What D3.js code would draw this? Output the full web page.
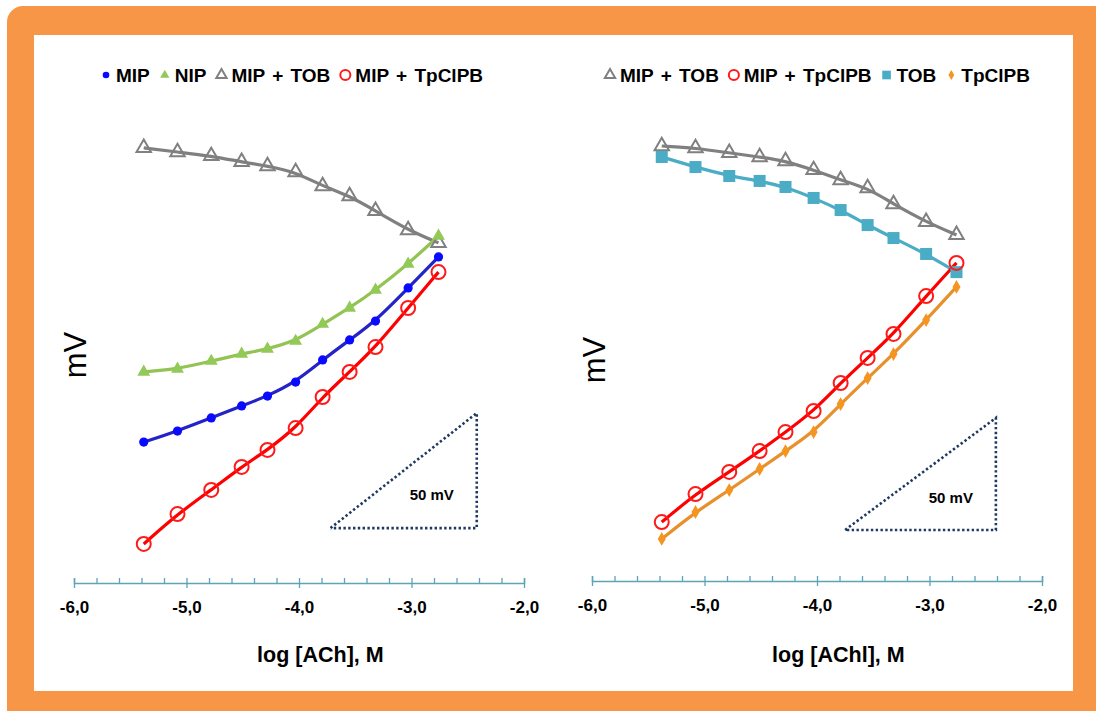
<!DOCTYPE html>
<html>
<head>
<meta charset="utf-8">
<script src="https://cdn.jsdelivr.net/npm/d3@7"></script>
<style>
  body { margin: 0; background: #fff; }
  text { font-family: "Liberation Sans", Arial, sans-serif; }
</style>
</head>
<body>
<svg width="1096" height="711"></svg>
<script>
var svg = d3.select("svg"),
    width = +svg.attr("width"),
    height = +svg.attr("height");

// log concentration of each addition (same for both panels)
var logConc = [-5.38, -5.08, -4.78, -4.51, -4.28, -4.03, -3.79, -3.55, -3.32, -3.03, -2.76];
var xTicksMajor = [-6, -5, -4, -3, -2];

// left panel, mV (relative)
var mipTobA    = [187.0, 185.2, 183.5, 180.9, 179.1, 176.5, 170.4, 166.1, 159.6, 151.3, 145.7];
var nip        = [89.6, 90.9, 94.3, 97.4, 99.6, 103.0, 110.4, 117.4, 125.2, 136.5, 148.7];
var mip        = [59.1, 63.9, 69.6, 74.8, 79.1, 85.2, 94.8, 103.5, 111.7, 126.1, 139.6];
var mipTpcA    = [14.8, 27.8, 38.3, 48.3, 55.7, 65.2, 78.7, 89.6, 100.4, 117.4, 133.0];

// right panel, mV (relative)
var mipTobB    = [194.2, 193.3, 191.1, 189.3, 187.5, 183.5, 179.0, 175.4, 168.3, 160.3, 154.5];
var tob        = [189.3, 184.8, 180.8, 178.6, 175.9, 171.0, 165.6, 158.9, 153.1, 146.0, 137.9];
var mipTpcB    = [26.3, 38.8, 48.7, 58.0, 66.5, 75.9, 88.4, 99.6, 110.3, 127.2, 142.0];
var tpclpb     = [18.8, 30.8, 40.6, 50.0, 58.0, 66.5, 79.0, 90.6, 101.3, 116.5, 131.3];

// 50 mV scale triangle (log x from, log x to, base mV)
var scaleBarA = [-3.72, -2.42, 21.7];
var scaleBarB = [-3.75, -2.41, 22.8];

var styles = {
  mip:    {name: "MIP",           color: "#0a0aff", line: "#2323c8", shape: "dot"},
  nip:    {name: "NIP",           color: "#92c957", line: "#92c353", shape: "tri"},
  mipTob: {name: "MIP + TOB",     color: "#808080", line: "#808080", shape: "otri"},
  mipTpc: {name: "MIP + TpClPB",  color: "#ff1a1a", line: "#ff0000", shape: "ocirc"},
  tob:    {name: "TOB",           color: "#4bacc6", line: "#4bacc6", shape: "square"},
  tpc:    {name: "TpClPB",        color: "#f5951f", line: "#e8902c", shape: "diamond"}
};

var panels = [
  {x0: 74, axisY: 583, zeroY: 578, pxPerMv: 2.3, title: "log [ACh], M", mvX: 75, mvY: 355,
   legendX: 106, bar: scaleBarA,
   series: [["mipTob", mipTobA], ["nip", nip], ["mip", mip], ["mipTpc", mipTpcA]],
   legend: ["mip", "nip", "mipTob", "mipTpc"]},
  {x0: 592, axisY: 581, zeroY: 581, pxPerMv: 2.24, title: "log [AChl], M", mvX: 594, mvY: 360,
   legendX: 610, bar: scaleBarB,
   series: [["mipTob", mipTobB], ["tob", tob], ["mipTpc", mipTpcB], ["tpc", tpclpb]],
   legend: ["mipTob", "mipTpc", "tob", "tpc"]}
];

// frame
svg.append("rect").attr("x", 7).attr("y", 6).attr("width", 1110).attr("height", 720)
  .attr("rx", 16).attr("fill", "#f79646");
svg.append("rect").attr("x", 34).attr("y", 35).attr("width", 1039).attr("height", 656)
  .attr("fill", "#fff");

function drawMarker(sel, shape, color, big) {
  var k = big ? 1 : 0.72;
  if (shape === "dot") {
    sel.append("circle").attr("r", 4.6 * k).attr("fill", color);
  } else if (shape === "ocirc") {
    sel.append("circle").attr("r", 7 * k).attr("fill", "none").attr("stroke", color).attr("stroke-width", 2);
  } else if (shape === "tri" || shape === "otri") {
    sel.append("path").attr("d", d3.symbol(d3.symbolTriangle, (shape === "tri" ? 72 : 90) * k * k)())
      .attr("fill", shape === "tri" ? color : "none")
      .attr("stroke", color).attr("stroke-width", shape === "tri" ? 0 : 2);
  } else if (shape === "square") {
    sel.append("rect").attr("x", -6 * k).attr("y", -6 * k).attr("width", 12 * k).attr("height", 12 * k)
      .attr("fill", color);
  } else if (shape === "diamond") {
    sel.append("path").attr("d", d3.symbol(d3.symbolDiamond, 55 * k * k)()).attr("fill", color);
  }
}

panels.forEach(function(p) {
  var x = d3.scaleLinear().domain([-6, -2]).range([p.x0, p.x0 + 450]);
  var y = d3.scaleLinear().domain([0, 200]).range([p.zeroY, p.zeroY - 200 * p.pxPerMv]);
  var g = svg.append("g");

  // axis: minor ticks above, major ticks crossing
  var minor = d3.range(-6, -1.99, 0.2);
  var axTop = g.append("g").attr("transform", "translate(0," + p.axisY + ")")
    .call(d3.axisTop(x).tickValues(minor).tickSize(5).tickFormat(""));
  var axBot = g.append("g").attr("transform", "translate(0," + p.axisY + ")")
    .call(d3.axisBottom(x).tickValues(xTicksMajor).tickSize(5).tickPadding(13)
      .tickFormat(function(v) { return v.toFixed(1).replace(".", ","); }));
  axBot.select(".domain").remove();
  [axTop, axBot].forEach(function(a) {
    a.selectAll("path, line").attr("stroke", "#5fa3b6").attr("stroke-width", 1.3);
  });
  axTop.selectAll(".domain").attr("stroke-width", 1.5);
  axBot.selectAll("text").attr("font-size", 17).attr("font-weight", "bold").attr("fill", "#000")
    .attr("font-family", "Liberation Sans, Arial, sans-serif");

  g.append("text").attr("x", x(-3.81)).attr("y", 662).attr("text-anchor", "middle")
    .attr("font-size", 21.5).attr("font-weight", "bold").text(p.title);

  g.append("text").attr("transform", "translate(" + (p.mvX + 11) + "," + p.mvY + ") rotate(-90)")
    .attr("text-anchor", "middle").attr("font-size", 31).text("mV");

  // 50 mV triangle
  var b = p.bar;
  g.append("path")
    .attr("d", d3.line()([[x(b[0]), y(b[2])], [x(b[1]), y(b[2] + 50)], [x(b[1]), y(b[2])], [x(b[0]), y(b[2])]]))
    .attr("fill", "none").attr("stroke", "#1f3a60").attr("stroke-width", 2.6)
    .attr("stroke-dasharray", "2.4,2.4");
  g.append("text").attr("x", x(b[1]) - 45).attr("y", y(b[2] + 12))
    .attr("text-anchor", "middle").attr("font-size", 15).attr("font-weight", "bold").text("50 mV");

  // curves
  var line = d3.line().x(function(d) { return x(d[0]); }).y(function(d) { return y(d[1]); })
    .curve(d3.curveBasis);
  p.series.forEach(function(s) {
    var st = styles[s[0]];
    var pts = logConc.map(function(c, i) { return [c, s[1][i]]; });
    g.append("path").attr("d", line(pts)).attr("fill", "none")
      .attr("stroke", st.line).attr("stroke-width", 3.2);
  });
  p.series.forEach(function(s) {
    var st = styles[s[0]];
    logConc.forEach(function(c, i) {
      var m = g.append("g").attr("transform", "translate(" + x(c) + "," + y(s[1][i]) + ")");
      drawMarker(m, st.shape, st.color, true);
    });
  });

  // legend
  var lx = p.legendX;
  p.legend.forEach(function(key) {
    var st = styles[key];
    var m = g.append("g").attr("transform", "translate(" + lx + ",75)");
    drawMarker(m, st.shape, st.color, false);
    var t = g.append("text").attr("x", lx + 10).attr("y", 82).attr("font-size", 19)
      .attr("font-weight", "bold").attr("word-spacing", 2).text(st.name);
    lx = lx + 10 + t.node().getComputedTextLength() + 15;
  });
});
</script>
</body>
</html>
